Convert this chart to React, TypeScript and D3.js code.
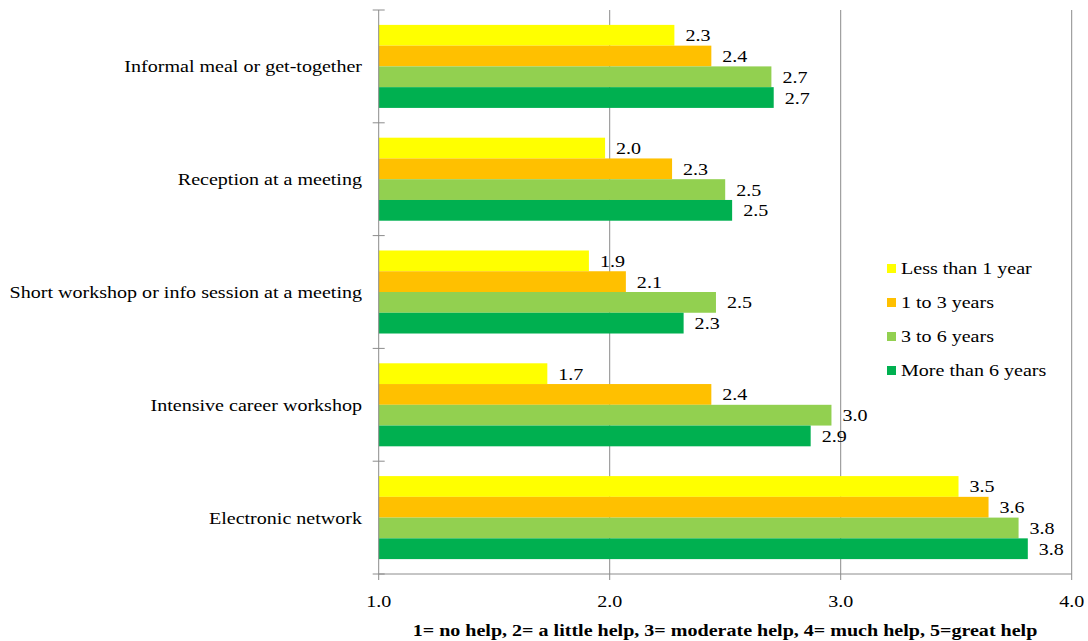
import React from "react";
import * as d3 from "d3";

const categories = [
  "Informal meal or get-together",
  "Reception at a meeting",
  "Short workshop or info session at a meeting",
  "Intensive career workshop",
  "Electronic network",
];
const seriesNames = ["Less than 1 year", "1 to 3 years", "3 to 6 years", "More than 6 years"];
const seriesColors = ["#FFFF00", "#FFC000", "#92D050", "#00B050"];
const lessThan1 = [2.28, 1.98, 1.91, 1.73, 3.51];
const oneTo3 = [2.44, 2.27, 2.07, 2.44, 3.64];
const threeTo6 = [2.7, 2.5, 2.46, 2.96, 3.77];
const moreThan6 = [2.71, 2.53, 2.32, 2.87, 3.81];
const seriesValues = [lessThan1, oneTo3, threeTo6, moreThan6];
const xTicks = [1, 2, 3, 4];
const xTitle = "1= no help, 2= a little help, 3= moderate help, 4= much help, 5=great help";

const W = 1088;
const H = 641;
const FONT = "'Liberation Serif', 'Times New Roman', serif";
const SX = 1.18;

function T(props: {
  x: number;
  y: number;
  anchor?: string;
  size?: number;
  weight?: string | number;
  children: React.ReactNode;
}) {
  const { x, y, anchor = "start", size = 17, weight = "normal", children } = props;
  return (
    <text
      transform={`translate(${x},${y}) scale(${SX},1)`}
      textAnchor={anchor}
      fontFamily={FONT}
      fontSize={size}
      fontWeight={weight}
      fill="#000"
    >
      {children}
    </text>
  );
}

export default function App() {
  const x = d3.scaleLinear().domain([1, 4]).range([378.7, 1071.7]);
  const y = d3
    .scaleBand<string>()
    .domain(categories)
    .range([10, 574])
    .paddingInner(0.264)
    .paddingOuter(0.132);
  const sub = d3
    .scaleBand<string>()
    .domain(seriesNames)
    .range([0, y.bandwidth()]);
  const step = y.step();
  const top = 10;
  const bottom = 574;
  const boundaries = d3.range(categories.length + 1).map((i) => top + i * step);
  const gray = "#8c8c8c";

  return (
    <svg
      width={W}
      height={H}
      style={{ position: "absolute", left: 0, top: 0, background: "#fff" }}
    >
      {/* gridlines */}
      {xTicks.slice(1).map((t) => (
        <line key={"g" + t} x1={x(t)} x2={x(t)} y1={top} y2={bottom} stroke={gray} strokeWidth={1} />
      ))}
      {/* bars */}
      {categories.map((c, ci) =>
        seriesNames.map((s, si) => {
          const v = seriesValues[si][ci];
          const by = (y(c) as number) + (sub(s) as number);
          return (
            <g key={c + s}>
              <rect
                x={x(1)}
                y={by}
                width={x(v) - x(1)}
                height={sub.bandwidth()}
                fill={seriesColors[si]}
              />
              <T x={x(v) + 11} y={by + sub.bandwidth() / 2 + 6}>
                {d3.format(".1f")(v)}
              </T>
            </g>
          );
        })
      )}
      {/* y axis */}
      <line x1={x(1)} x2={x(1)} y1={top} y2={bottom} stroke={gray} strokeWidth={1} />
      {boundaries.map((b, i) => (
        <line key={"yt" + i} x1={x(1) - 6} x2={x(1) + 6} y1={b} y2={b} stroke={gray} strokeWidth={1} />
      ))}
      {/* x axis */}
      <line x1={x(1)} x2={x(4)} y1={bottom} y2={bottom} stroke={gray} strokeWidth={1} />
      {xTicks.map((t) => (
        <line key={"xt" + t} x1={x(t)} x2={x(t)} y1={bottom} y2={bottom + 6} stroke={gray} strokeWidth={1} />
      ))}
      {xTicks.map((t) => (
        <T key={"xl" + t} x={x(t)} y={607} anchor="middle">
          {d3.format(".1f")(t)}
        </T>
      ))}
      {/* category labels */}
      {categories.map((c) => (
        <T key={"cl" + c} x={362} y={(y(c) as number) + y.bandwidth() / 2 + 6} anchor="end">
          {c}
        </T>
      ))}
      {/* x title */}
      <T x={725} y={636} anchor="middle" size={17} weight="bold">
        {xTitle}
      </T>
      {/* legend */}
      {seriesNames.map((s, i) => (
        <g key={"lg" + s}>
          <rect x={887} y={264 + i * 34} width={9} height={9} fill={seriesColors[i]} />
          <T x={901} y={274 + i * 34}>
            {s}
          </T>
        </g>
      ))}
    </svg>
  );
}
